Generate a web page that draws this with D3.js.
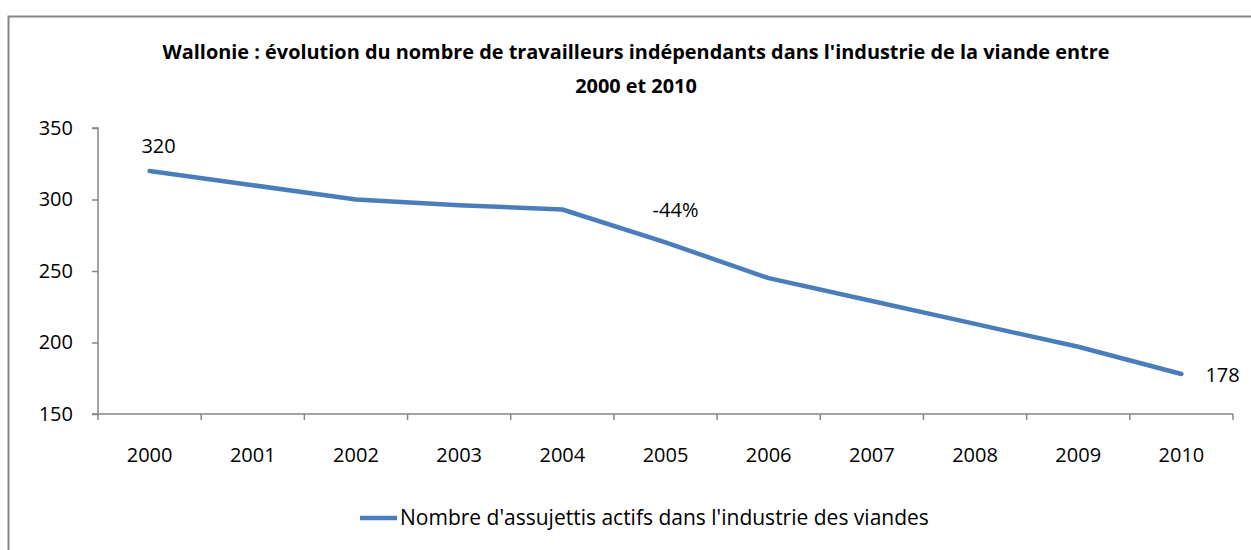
<!DOCTYPE html>
<html lang="fr">
<head>
<meta charset="UTF-8">
<title>Wallonie - industrie de la viande</title>
<style>
  body { margin:0; background:#fff; overflow:hidden; }
  svg { display:block; font-family:"Open Sans", "Liberation Sans", sans-serif; }
  .axis text { font-family:"Open Sans", "Liberation Sans", sans-serif; font-size:20px; fill:#000; }
  .axis path, .axis line { stroke:#868686; stroke-width:1.5; }
</style>
</head>
<body>
<svg id="chart" width="1251" height="550"></svg>
<script src="https://d3js.org/d3.v7.min.js"></script>
<script>
const years = ['2000','2001','2002','2003','2004','2005','2006','2007','2008','2009','2010'];
const assujettis = [320, 310, 300, 296, 293, 270, 245, 229, 213, 197, 178];
const yTicks = [150, 200, 250, 300, 350];
const titleLines = ["Wallonie : évolution du nombre de travailleurs indépendants dans l'industrie de la viande entre", "2000 et 2010"];
const seriesName = "Nombre d'assujettis actifs dans l'industrie des viandes";

const svg = d3.select('#chart');
const W = 1251, H = 550;
const m = {left: 98, right: 1233, top: 128, bottom: 414};

// frame
svg.append('rect').attr('x', 8.5).attr('y', 16.5).attr('width', W + 10).attr('height', H)
  .attr('fill', '#fff').attr('stroke', '#868686').attr('stroke-width', 2);

// title
svg.append('text').attr('text-anchor', 'middle').style('font-weight', 'bold').style('font-size', '19.9px')
  .selectAll('tspan').data(titleLines).join('tspan')
  .attr('x', 636).attr('y', (d, i) => 59 + i * 34).text(d => d);

const x = d3.scaleBand().domain(years).range([m.left, m.right]);
const y = d3.scaleLinear().domain([150, 350]).range([m.bottom, m.top]);

svg.append('g').attr('class', 'axis')
  .attr('transform', `translate(${m.left},0)`)
  .call(d3.axisLeft(y).tickValues(yTicks).tickSize(6).tickPadding(19))
  .call(g => g.select('.domain').attr('d', `M-6,${m.top}H0V${m.bottom}H-6`));

const xAxis = svg.append('g').attr('class', 'axis')
  .attr('transform', `translate(0,${m.bottom})`)
  .call(d3.axisBottom(x).tickSize(0).tickPadding(34));
xAxis.select('.domain').attr('d', `M${m.left},0H${m.right}`);
xAxis.selectAll('.sep').data(years.concat(['end'])).join('line').attr('class', 'sep')
  .attr('x1', (d, i) => m.left + i * x.step()).attr('x2', (d, i) => m.left + i * x.step())
  .attr('y1', 0).attr('y2', 6);

const cx = d => x(d) + x.bandwidth() / 2;
const line = d3.line().x((d, i) => cx(years[i])).y(d => y(d));
svg.append('path').datum(assujettis).attr('d', line)
  .attr('fill', 'none').attr('stroke', '#4a7ebb').attr('stroke-width', 4.5)
  .attr('stroke-linejoin', 'round').attr('stroke-linecap', 'round');

// data labels
const lbl = svg.append('g').style('font-size', '20px');
lbl.append('text').attr('x', cx('2000') + 9).attr('y', y(assujettis[0]) - 18).attr('text-anchor', 'middle').text(assujettis[0]);
lbl.append('text').attr('x', cx('2010') + 24).attr('y', y(assujettis[10]) + 8).text(assujettis[10]);
const change = Math.round((assujettis[10] - assujettis[0]) / assujettis[0] * 100);
lbl.append('text').attr('x', cx('2005') + 10).attr('y', y(288)).attr('text-anchor', 'middle').text(change + '%');

// legend
const lg = svg.append('g').attr('transform', 'translate(360,518)');
lg.append('line').attr('x1', 0).attr('x2', 37).attr('stroke', '#4a7ebb').attr('stroke-width', 4.5);
lg.append('text').attr('x', 40).attr('y', 7).style('font-size', '21px').text(seriesName);
</script>
</body>
</html>
